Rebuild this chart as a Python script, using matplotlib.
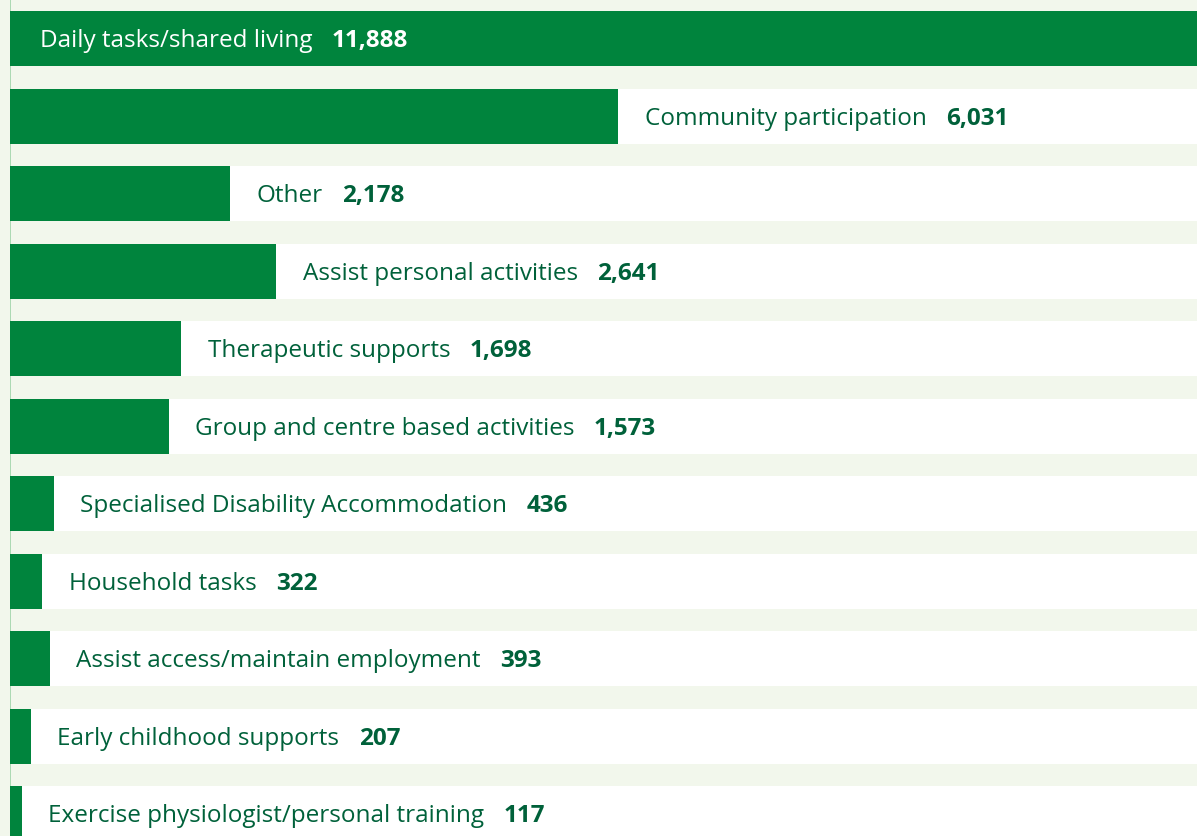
import matplotlib.pyplot as plt

# Data (display order, top to bottom)
categories = [
    "Daily tasks/shared living",
    "Community participation",
    "Other",
    "Assist personal activities",
    "Therapeutic supports",
    "Group and centre based activities",
    "Specialised Disability Accommodation",
    "Household tasks",
    "Assist access/maintain employment",
    "Early childhood supports",
    "Exercise physiologist/personal training",
]
values = [11888, 6031, 2178, 2641, 1698, 1573, 436, 322, 393, 207, 117]

GREEN = "#00843d"
TEXT = "#00613a"
BG = "#f2f7ec"

plt.rcParams['font.family'] = ['Open Sans', 'DejaVu Sans']

fig = plt.figure(figsize=(11.97, 8.36), dpi=100, facecolor=BG)
ax = fig.add_axes([10 / 1197, 0, 1187 / 1197, 1])
ax.set_facecolor(BG)

xmax = 11770
ypos = list(range(len(categories)))

# white row bands, then the bars
ax.barh(ypos, [xmax] * len(ypos), height=0.71, color="white", zorder=1)
ax.barh(ypos, values, height=0.71, color=GREEN, zorder=2)
ax.axvline(0, color="#9fd4a8", lw=1.2, zorder=0)

fs = 17.5
for y, name, v in zip(ypos, categories, values):
    if v >= xmax * 0.95:
        lab = ax.annotate(name, xy=(0, y), xytext=(21.5, -2), textcoords="offset points",
                          va="center", ha="left", fontsize=fs, color="white", zorder=3)
        col = "white"
    else:
        lab = ax.annotate(name, xy=(v, y), xytext=(19, -2), textcoords="offset points",
                          va="center", ha="left", fontsize=fs, color=TEXT, zorder=3)
        col = TEXT
    ax.annotate(f"{v:,}", xy=(1, 0.5), xycoords=lab, xytext=(14, 0),
                textcoords="offset points", va="center", ha="left",
                fontsize=fs, fontweight="bold", color=col, zorder=3)

ax.set_xlim(0, xmax)
ax.set_ylim(10.29, -0.497)
ax.axis("off")

fig.savefig("out.png", dpi=100, facecolor=BG)
